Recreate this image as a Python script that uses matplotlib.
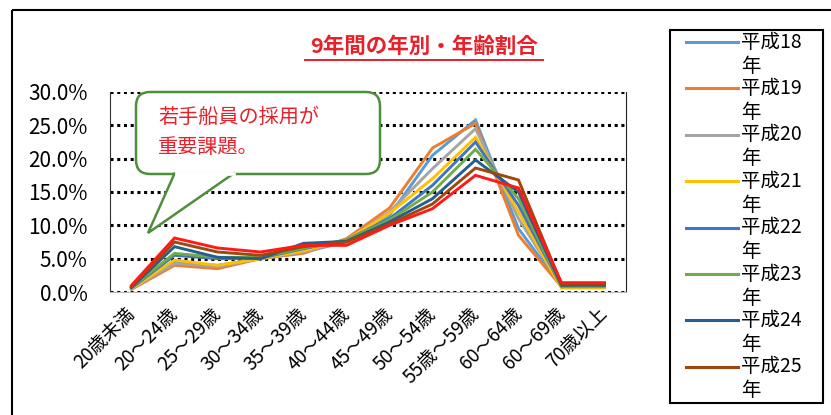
import numpy as np
import matplotlib
matplotlib.use("Agg")
import matplotlib.pyplot as plt
from matplotlib.patches import FancyBboxPatch, Polygon, Rectangle
from matplotlib.ticker import PercentFormatter
from matplotlib.transforms import ScaledTranslation

plt.rcParams['font.family'] = ['Noto Sans CJK JP', 'DejaVu Sans']

# 年齢区分
ages = ['20歳未満', '20～24歳', '25～29歳', '30～34歳', '35～39歳', '40～44歳',
        '45～49歳', '50～54歳', '55歳～59歳', '60～64歳', '60～69歳', '70歳以上']

# 年別の年齢割合（%）
h18 = [0.5, 4.5, 4.0, 5.0, 6.0, 7.5, 11.5, 20.5, 25.8, 9.5, 0.8, 0.8]
h19 = [0.4, 4.0, 3.5, 5.0, 5.8, 8.0, 12.6, 21.6, 25.3, 8.5, 0.8, 0.8]
h20 = [0.5, 4.3, 3.8, 5.0, 6.0, 7.8, 12.0, 18.5, 24.5, 11.0, 0.9, 0.9]
h21 = [0.5, 4.8, 4.0, 5.0, 6.2, 7.8, 11.8, 17.0, 23.2, 12.0, 0.6, 0.6]
h22 = [0.6, 5.5, 5.0, 5.1, 6.5, 7.8, 11.0, 16.0, 22.5, 13.0, 0.9, 0.9]
h23 = [0.7, 5.8, 5.2, 5.2, 6.6, 7.8, 10.8, 15.0, 21.4, 14.0, 0.8, 0.8]
h24 = [0.7, 6.8, 5.2, 5.0, 7.3, 7.6, 10.5, 14.0, 19.8, 15.0, 1.0, 1.0]
h25 = [0.8, 7.5, 6.0, 5.5, 6.8, 7.5, 10.2, 13.2, 18.6, 16.8, 1.2, 1.2]
h26 = [1.0, 8.1, 6.6, 6.0, 7.0, 7.0, 10.0, 12.5, 17.5, 15.6, 1.4, 1.4]

years = ['平成18年', '平成19年', '平成20年', '平成21年', '平成22年',
         '平成23年', '平成24年', '平成25年', '平成26年']
series = [h18, h19, h20, h21, h22, h23, h24, h25, h26]
colors = ['#5B9BD5', '#ED7D31', '#A5A5A5', '#FFC000', '#4472C4',
          '#70AD47', '#255E91', '#9E480E', '#FF1A1A']

W, H = 831, 415
fig = plt.figure(figsize=(W / 100, H / 100), dpi=100)

# グラフ本体
ax = fig.add_axes([110 / W, (H - 292) / H, (626 - 110) / W, (292 - 92) / H])
x = np.arange(len(ages))
for vals, c in zip(series, colors):
    ax.plot(x, np.array(vals) / 100, color=c, lw=2.1, solid_joinstyle='miter')

ax.set_xlim(-0.5, len(ages) - 0.5)
ax.set_ylim(0, 0.30)
ax.set_yticks(np.arange(0, 0.301, 0.05))
ax.yaxis.set_major_formatter(PercentFormatter(1.0, decimals=1))
ax.set_xticks(x)
ax.set_xticklabels(ages, rotation=45, ha='right', va='top', rotation_mode='anchor', fontsize=13.5)
ax.tick_params(axis='y', labelsize=15, length=0, pad=16)
ax.tick_params(axis='x', length=0, pad=7)
# 斜めラベルを少し左へずらす
shift = ScaledTranslation(-0.07, -0.02, fig.dpi_scale_trans)
for t in ax.get_xticklabels():
    t.set_transform(t.get_transform() + shift)
ax.grid(axis='y', color='black', linestyle=(0, (1, 1.2)), linewidth=2.2)
ax.set_axisbelow(True)
ax.spines['top'].set_visible(False)
ax.spines['bottom'].set_color('#BBBBBB')
ax.spines['left'].set_color('#333333')
ax.spines['right'].set_color('#222222')

# 枠・吹き出し・凡例（ピクセル座標）
ov = fig.add_axes([0, 0, 1, 1])
ov.set_xlim(0, W)
ov.set_ylim(H, 0)
ov.axis('off')
ov.patch.set_alpha(0)

ov.add_patch(Rectangle((12, 10), 840, 420, fill=False, ec='black', lw=1.5))

ov.text(424, 46, '9年間の年別・年齢割合', color='#E8202A', fontsize=15.5,
        fontweight='bold', ha='center', va='center')
ov.plot([305, 543], [60, 60], color='#E8202A', lw=1.4)

# 吹き出し
ov.add_patch(FancyBboxPatch((136, 92), 244, 82, boxstyle='round,pad=0,rounding_size=14',
                            fc='white', ec='#4E8F3A', lw=1.8, zorder=3))
ov.add_patch(Polygon([[175, 172.5], [148, 233], [235, 172.5]], closed=False,
                     fc='white', ec='#4E8F3A', lw=1.8, zorder=4))
ov.plot([176.5, 233.5], [174, 174], color='white', lw=2.6, zorder=5)
ov.text(158, 117, '若手船員の採用が', color='#E8202A', fontsize=14.5, va='center', zorder=6)
ov.text(158, 147, '重要課題。', color='#E8202A', fontsize=14.5, va='center', zorder=6)

# 凡例
ov.add_patch(Rectangle((670, 30), 153, 373, fill=False, ec='black', lw=1.5))
for i, (name, c) in enumerate(zip(years[:8], colors[:8])):
    y = 42 + i * 46.4
    ov.plot([686, 738], [y, y], color=c, lw=2.2)
    ov.text(741, y, name[:-1], fontsize=14, va='center')
    ov.text(741, y + 24, name[-1], fontsize=14, va='center')

fig.savefig('out.png', dpi=100)
